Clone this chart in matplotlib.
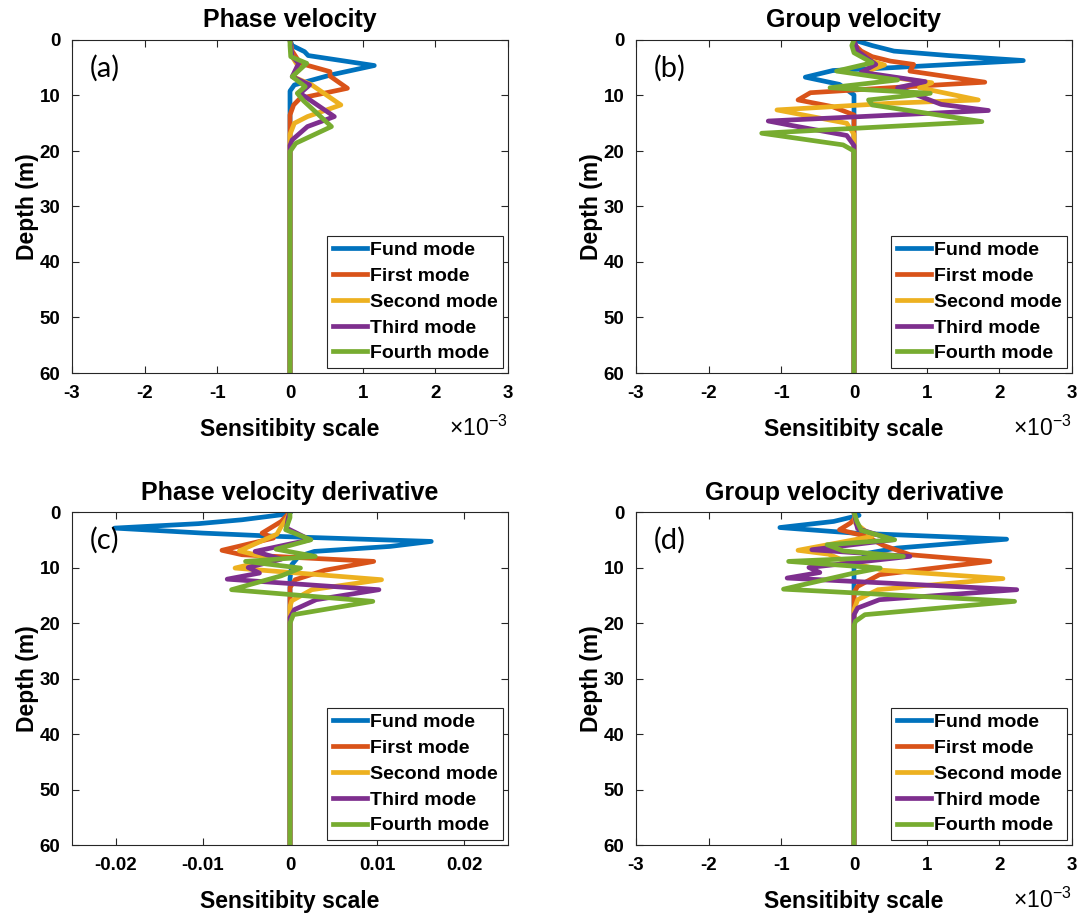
import matplotlib
matplotlib.use("Agg")
import matplotlib.pyplot as plt
import numpy as np

plt.rcParams['font.family'] = ['Liberation Sans', 'DejaVu Sans']
plt.rcParams['font.weight'] = 'bold'
plt.rcParams['mathtext.fontset'] = 'custom'
plt.rcParams['mathtext.rm'] = 'Liberation Sans'
plt.rcParams['mathtext.default'] = 'regular'

mode_names = ["Fund mode", "First mode", "Second mode", "Third mode", "Fourth mode"]
mode_colors = ["#0072BD", "#D95319", "#EDB120", "#7E2F8E", "#77AC30"]

# ---------------- (a) Phase velocity  (values x 1e-3) ----------------
a_fund_depth = [0, 1, 2.1, 2.8, 4.6, 6.3, 8.1, 9.2, 60]
a_fund_val = [0, 0.03, 0.2, 0.25, 1.16, 0.56, 0.06, 0, 0]
a_first_depth = [0, 2, 4.2, 5.7, 6.5, 8.7, 10.5, 11.7, 13.5, 60]
a_first_val = [0, 0.03, 0.14, 0.55, 0.55, 0.79, 0.14, 0.05, 0, 0]
a_second_depth = [0, 3, 5.1, 6.6, 8.1, 11.7, 13.8, 15, 17, 60]
a_second_val = [0, 0.03, 0.13, 0.04, 0.3, 0.7, 0.24, 0.06, 0, 0]
a_third_depth = [0, 3, 4.2, 6.6, 8.1, 9.6, 13.8, 15.6, 18, 19, 60]
a_third_val = [0, 0.03, 0.12, 0.03, 0.27, 0.14, 0.61, 0.24, 0.03, 0, 0]
a_fourth_depth = [0, 1, 3, 4.2, 6.6, 8.4, 9.6, 11, 15.6, 18.6, 20.1, 60]
a_fourth_val = [0, 0, 0.01, 0.23, 0.03, 0.21, 0.1, 0.19, 0.57, 0.08, 0, 0]

# ---------------- (b) Group velocity  (values x 1e-3) ----------------
b_fund_depth = [0, 1, 2, 2.8, 3.7, 5.0, 5.5, 6.7, 8, 9.9, 60]
b_fund_val = [0, 0.25, 0.55, 1.3, 2.33, 0.5, -0.29, -0.67, -0.2, 0, 0]
b_first_depth = [0, 1, 2, 3, 3.8, 4.4, 5.6, 7.6, 8.6, 9.5, 10.8, 12, 13.5, 60]
b_first_val = [0, 0.02, 0.1, 0.25, 0.5, 0.82, 0.77, 1.8, 0.5, -0.6, -0.77, -0.3, 0, 0]
b_second_depth = [0, 2, 3.8, 4.5, 6, 7.7, 8.6, 10.8, 11.4, 12.6, 14, 15, 17, 60]
b_second_val = [0, 0.03, 0.24, 0.42, 0.1, 1.07, 0.9, 1.71, 0.5, -1.06, -0.5, -0.1, 0, 0]
b_third_depth = [0, 2, 4.4, 5.8, 7.5, 8.6, 10.6, 11.6, 12.7, 14.6, 15.3, 17.2, 19, 60]
b_third_val = [0, 0.05, 0.3, 0.1, 0.98, 0.6, 1.0, 1.2, 1.85, -1.18, -0.9, -0.1, 0, 0]
b_fourth_depth = [0, 1, 2.3, 4.1, 5.6, 7.2, 8.6, 9.6, 10.8, 11.7, 14.7, 16.8, 18.9, 20, 60]
b_fourth_val = [0, -0.03, 0.0, 0.25, -0.24, 0.6, -0.33, 1.05, 0.2, 0.25, 1.76, -1.27, -0.15, 0, 0]

# ---------------- (c) Phase velocity derivative ----------------
c_fund_depth = [0, 0.5, 1.4, 2.1, 2.9, 3.8, 4.4, 5.3, 6.2, 7.1, 8, 9.5, 12, 60]
c_fund_val = [0, -0.001, -0.0055, -0.0105, -0.0201, -0.01, -0.0013, 0.0162, 0.0115, 0.0028, 0.001, 0.0002, 0, 0]
c_first_depth = [0, 1.7, 3.8, 4.7, 6.9, 7.7, 8.3, 8.9, 10.5, 12.2, 13.6, 60]
c_first_val = [0, -0.001, -0.0032, -0.0019, -0.0078, -0.0055, 0.002, 0.0096, 0.004, 0.0006, 0, 0]
c_second_depth = [0, 1, 2.6, 4, 7.0, 8.5, 10.1, 12.2, 14, 16, 17, 60]
c_second_val = [0, -0.0003, -0.001, -0.0015, -0.0058, -0.002, -0.0063, 0.0105, 0.0025, 0.0002, 0, 0]
c_third_depth = [0, 1, 2.9, 5, 7.1, 8.5, 10, 11, 12.1, 14, 15.8, 17.6, 19, 60]
c_third_val = [0, -0.0002, -0.0004, 0.0023, -0.004, -0.001, -0.0048, -0.0035, -0.0072, 0.0102, 0.003, 0.0005, 0, 0]
c_fourth_depth = [0, 1, 3.2, 5, 6.7, 8, 8.9, 10.1, 11.5, 14, 16.1, 18.5, 20, 60]
c_fourth_val = [0, 0, -0.0005, 0.0024, -0.0016, 0.0029, -0.0051, 0.0012, -0.001, -0.0067, 0.0095, 0.0004, 0, 0]

# ---------------- (d) Group velocity derivative  (values x 1e-3) ----------------
d_fund_depth = [0, 0.6, 1.7, 2.8, 3.8, 4.9, 6.5, 7.4, 9.5, 60]
d_fund_val = [0, 0.07, -0.28, -1.02, 0, 2.1, 0.59, 0.2, 0, 0]
d_first_depth = [0, 1, 2, 3.2, 4.4, 6, 7.7, 8.9, 11.3, 13.4, 14.5, 60]
d_first_val = [0, 0.02, -0.05, -0.2, 0.17, 0.4, 0.77, 1.87, 0.35, 0.05, 0, 0]
d_second_depth = [0, 2, 4.4, 6.9, 7.6, 9, 10.5, 12, 14, 15.8, 17.6, 60]
d_second_val = [0, 0.02, 0.25, -0.77, -0.35, -0.1, 0.4, 2.05, 0.33, 0.05, 0, 0]
d_third_depth = [0, 2, 3, 5, 6.8, 8, 10, 10.9, 11.9, 14, 15.8, 17.3, 18.5, 60]
d_third_val = [0, 0.03, 0.05, 0.54, -0.58, 0.77, -0.62, -0.47, -0.92, 2.24, 0.35, 0.05, 0, 0]
d_fourth_depth = [0, 1.7, 3.3, 5, 5.9, 7, 8, 8.9, 10.1, 11, 13.9, 16.1, 18.5, 19.7, 20.5, 60]
d_fourth_val = [0, 0.04, 0.1, 0.56, -0.37, -0.15, 0.68, -0.9, 0.36, 0.0, -0.97, 2.21, 0.15, 0.02, 0, 0]

panels = [
    dict(title="Phase velocity", tag="(a)",
         depths=[a_fund_depth, a_first_depth, a_second_depth, a_third_depth, a_fourth_depth],
         vals=[a_fund_val, a_first_val, a_second_val, a_third_val, a_fourth_val],
         xlim=(-3, 3), xticks=[-3, -2, -1, 0, 1, 2, 3], xticklabels=["-3", "-2", "-1", "0", "1", "2", "3"],
         offset=True, rect=(72, 40, 508, 373)),
    dict(title="Group velocity", tag="(b)",
         depths=[b_fund_depth, b_first_depth, b_second_depth, b_third_depth, b_fourth_depth],
         vals=[b_fund_val, b_first_val, b_second_val, b_third_val, b_fourth_val],
         xlim=(-3, 3), xticks=[-3, -2, -1, 0, 1, 2, 3], xticklabels=["-3", "-2", "-1", "0", "1", "2", "3"],
         offset=True, rect=(636, 40, 1072, 373)),
    dict(title="Phase velocity derivative", tag="(c)",
         depths=[c_fund_depth, c_first_depth, c_second_depth, c_third_depth, c_fourth_depth],
         vals=[c_fund_val, c_first_val, c_second_val, c_third_val, c_fourth_val],
         xlim=(-0.025, 0.025), xticks=[-0.02, -0.01, 0, 0.01, 0.02],
         xticklabels=["-0.02", "-0.01", "0", "0.01", "0.02"],
         offset=False, rect=(72, 512, 508, 845)),
    dict(title="Group velocity derivative", tag="(d)",
         depths=[d_fund_depth, d_first_depth, d_second_depth, d_third_depth, d_fourth_depth],
         vals=[d_fund_val, d_first_val, d_second_val, d_third_val, d_fourth_val],
         xlim=(-3, 3), xticks=[-3, -2, -1, 0, 1, 2, 3], xticklabels=["-3", "-2", "-1", "0", "1", "2", "3"],
         offset=True, rect=(636, 512, 1072, 845)),
]

depth_ticks = [0, 10, 20, 30, 40, 50, 60]

W, H = 1079, 913
fig = plt.figure(figsize=(W / 100, H / 100), dpi=100)

for p in panels:
    x0, y0, x1, y1 = p["rect"]
    ax = fig.add_axes([x0 / W, 1 - y1 / H, (x1 - x0) / W, (y1 - y0) / H])
    for dep, val, name, col in zip(p["depths"], p["vals"], mode_names, mode_colors):
        ax.plot(val, dep, color=col, lw=3.4, label=name, solid_joinstyle='round')
    ax.set_xlim(*p["xlim"])
    ax.set_ylim(60, 0)
    ax.set_xticks(p["xticks"])
    ax.set_xticklabels(p["xticklabels"], fontweight='bold')
    ax.set_yticks(depth_ticks)
    ax.set_yticklabels([str(t) for t in depth_ticks], fontweight='bold')
    ax.tick_params(direction='in', top=True, right=True, labelsize=13.5, length=5, width=0.8,
                   pad=8.5, colors='#262626', labelcolor='black')
    for s in ax.spines.values():
        s.set_linewidth(0.8)
        s.set_color('#262626')
    ax.set_title(p["title"], fontsize=18, fontweight='bold', pad=9)
    ax.set_xlabel("Sensitibity scale", fontsize=16.5, fontweight='bold', labelpad=12)
    ax.set_ylabel("Depth (m)", fontsize=16.5, fontweight='bold', labelpad=0.5)
    ax.text(0.041, 0.916, p["tag"], transform=ax.transAxes, fontsize=21,
            family=['Lato', 'DejaVu Sans'], fontweight='normal', va='center', ha='left')
    leg = ax.legend(loc='lower right', prop={'weight': 'bold', 'size': 14},
                    frameon=True, fancybox=False, edgecolor='#262626', framealpha=1,
                    borderaxespad=0.25, handlelength=1.75, labelspacing=0.42,
                    handletextpad=0.15, borderpad=0.3)
    leg.get_frame().set_linewidth(0.8)
    if p["offset"]:
        ax.text(0.998, -0.19, "\u00d710$^{-3}$", transform=ax.transAxes,
                fontsize=16.5, fontweight='normal', ha='right', va='baseline')

fig.savefig("out.png", dpi=100)
